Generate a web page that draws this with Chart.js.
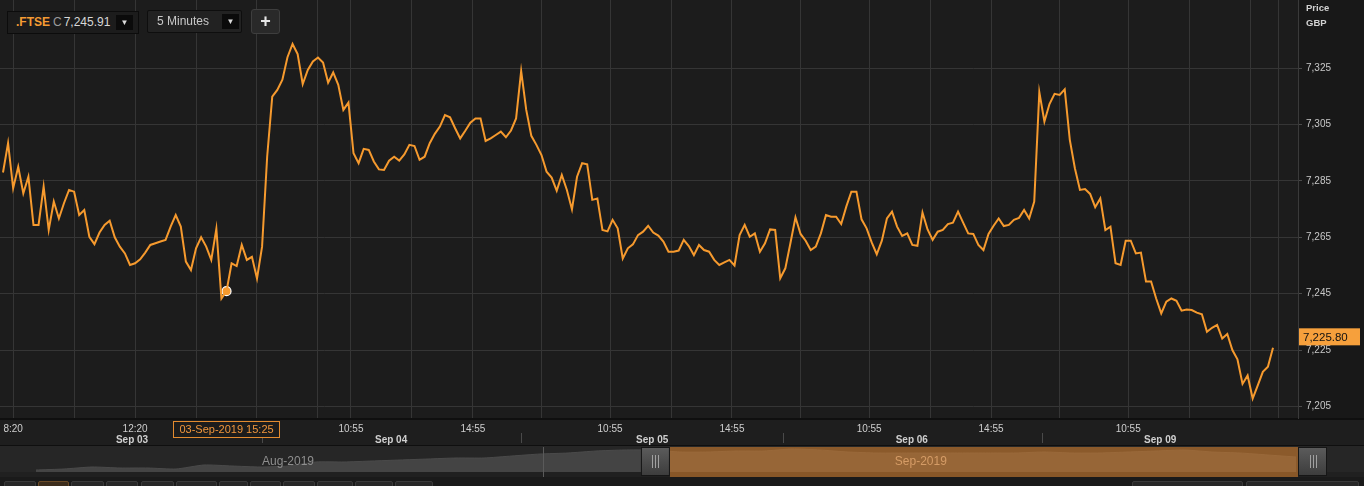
<!DOCTYPE html>
<html>
<head>
<meta charset="utf-8">
<script src="https://cdn.jsdelivr.net/npm/chart.js@4.4.1/dist/chart.umd.min.js"></script>
<style>
    body { margin: 0; width: 1364px; height: 486px; overflow: hidden; background: #1a1a1a; position: relative; font-family: "Liberation Sans", Arial, sans-serif; }
    #mainChart { position: absolute; left: 0; top: 0; }
    #navChart { position: absolute; left: 0; top: 446px; }
    .box { position: absolute; box-sizing: border-box; }
    .ric { left: 7px; top: 11px; width: 132px; height: 23px; border: 1px solid #0c0c0c; background: #1c1c1c; font-size: 12px; line-height: 21px; color: #d8d8d8; padding-left: 8px; }
    .ric .code { color: #f49b33; font-weight: bold; }
    .ric .c { color: #9a9a9a; margin: 0 2px 0 3px; }
    .drop { position: absolute; top: 3px; width: 17px; height: 15px; background: #0b0b0b; color: #dcdcdc; font-size: 8px; line-height: 15px; text-align: center; }
    .interval { left: 147px; top: 10px; width: 95px; height: 23px; border: 1px solid #0e0e0e; border-radius: 2px; background: #222; font-size: 12px; line-height: 21px; color: #c8c8c8; padding-left: 9px; }
    .plus { left: 251px; top: 9px; width: 29px; height: 25px; border: 1px solid #3e3e3e; border-radius: 3px; background: #292929; color: #e6e6e6; font-size: 18px; font-weight: bold; line-height: 22px; text-align: center; }
    .btn { position: absolute; top: 481px; height: 12px; box-sizing: border-box; border: 1px solid #3a3a3a; border-radius: 2px; background: #272727; }
    .btn.on { border-color: #6a4a26; background: #3d2d1c; }
</style>
</head>
<body>
<canvas id="mainChart" width="1364" height="446"></canvas>
<canvas id="navChart" width="1364" height="31"></canvas>

<div class="box ric"><span class="code">.FTSE</span><span class="c">C</span>7,245.91<div class="drop" style="left:108px">&#9660;</div></div>
<div class="box interval">5 Minutes<div class="drop" style="left:74px">&#9660;</div></div>
<div class="box plus">+</div>
<div id="buttons"></div>

<script>
// FTSE 100, 10 minute steps from 03-Sep 08:00 to 09-Sep afternoon
const prices = [
    7288.0, 7298.4, 7282.4, 7290.0, 7280.6, 7286.5, 7269.4, 7269.4, 7283.0, 7267.6,
    7277.7, 7271.7, 7277.1, 7281.8, 7281.2, 7272.9, 7274.7, 7265.2, 7262.6, 7266.7,
    7269.4, 7270.9, 7265.0, 7261.7, 7259.3, 7255.2, 7255.8, 7257.2, 7259.6, 7262.3,
    7262.9, 7263.5, 7264.1, 7268.8, 7272.9, 7268.8, 7256.4, 7253.4, 7261.1, 7265.0,
    7261.7, 7257.0, 7268.0, 7243.3, 7245.91, 7255.8, 7254.8, 7262.3, 7257.0, 7258.1,
    7250.4, 7261.7, 7293.6, 7314.9, 7317.3, 7320.9, 7328.9, 7333.6, 7330.0, 7319.4,
    7324.4, 7327.4, 7328.8, 7327.0, 7319.9, 7323.5, 7319.1, 7310.2, 7312.8, 7294.8,
    7291.3, 7296.4, 7296.0, 7291.9, 7289.1, 7288.9, 7292.2, 7293.6, 7292.2, 7294.4,
    7297.8, 7297.4, 7292.5, 7293.6, 7298.4, 7301.7, 7304.3, 7308.4, 7307.6, 7303.7,
    7300.1, 7302.8, 7305.7, 7307.2, 7307.2, 7299.2, 7300.1, 7301.3, 7302.5, 7300.5,
    7302.9, 7307.2, 7324.0, 7310.2, 7301.0, 7297.8, 7294.2, 7288.3, 7286.2, 7281.5,
    7287.1, 7281.8, 7274.9, 7286.5, 7291.3, 7290.9, 7278.3, 7278.8, 7267.6, 7267.1,
    7271.2, 7268.2, 7257.5, 7261.1, 7262.5, 7265.8, 7267.0, 7269.1, 7266.7, 7265.6,
    7263.5, 7259.9, 7259.9, 7260.3, 7264.1, 7261.9, 7258.7, 7262.3, 7260.5, 7259.9,
    7257.0, 7255.2, 7256.1, 7257.0, 7255.0, 7265.8, 7269.4, 7265.2, 7266.4, 7259.9,
    7262.9, 7267.8, 7267.6, 7250.5, 7254.0, 7262.9, 7272.1, 7266.2, 7263.8, 7260.5,
    7261.7, 7266.4, 7272.9, 7272.3, 7272.3, 7269.7, 7275.9, 7281.2, 7281.2, 7271.4,
    7268.2, 7263.2, 7259.0, 7263.8, 7271.7, 7274.1, 7268.8, 7265.5, 7266.4, 7262.3,
    7262.0, 7273.8, 7267.8, 7264.1, 7267.0, 7267.6, 7269.7, 7270.2, 7274.1, 7270.2,
    7266.4, 7266.2, 7262.3, 7260.5, 7266.2, 7269.1, 7271.7, 7269.0, 7269.4, 7271.2,
    7271.9, 7274.7, 7271.7, 7277.7, 7316.5, 7306.1, 7312.3, 7315.9, 7315.5, 7317.5,
    7299.6, 7289.5, 7281.8, 7282.1, 7280.4, 7275.7, 7278.8, 7267.6, 7268.8, 7255.8,
    7255.2, 7263.8, 7263.8, 7259.3, 7259.6, 7249.3, 7249.3, 7243.3, 7238.0, 7242.2,
    7243.3, 7242.5, 7239.0, 7239.4, 7239.2, 7238.3, 7237.7, 7231.5, 7232.9, 7233.9,
    7229.1, 7230.7, 7225.0, 7221.7, 7213.0, 7216.0, 7207.8, 7212.5, 7217.3, 7219.1,
    7225.8
];

const priceTicks = [7205, 7225, 7245, 7265, 7285, 7305, 7325];
const gridIdx = [2, 14, 26, 38, 50, 62, 68.5, 80.5, 92.5, 106, 119.5, 131.5, 143.5, 157, 170.5, 182.5, 194.5, 208, 221.5, 233.5, 245.5, 251];
const timeTickIdx = [2, 26, 68.5, 92.5, 119.5, 143.5, 170.5, 194.5, 221.5];
const timeTickText = ['8:20', '12:20', '10:55', '14:55', '10:55', '14:55', '10:55', '14:55', '10:55'];
const dayCenters = [25.4, 76.4, 127.8, 178.9, 227.8];
const dayLabels = ['Sep 03', 'Sep 04', 'Sep 05', 'Sep 06', 'Sep 09'];
const daySeparators = [51, 102, 153.5, 204.5];

const markerIdx = 44;
const markerLabel = '03-Sep-2019 15:25';

// navigator (Aug - Sep overview)
const navValues = [
    6980, 6995, 7025, 7010, 7010, 6995, 7055, 7040, 7025, 7040,
    7100, 7100, 7115, 7130, 7145, 7160, 7160, 7190, 7220, 7235,
    7265, 7280, 7280, 7250, 7250, 7265, 7265, 7295, 7280, 7250,
    7235, 7235, 7235, 7235, 7235, 7235, 7250, 7235, 7235, 7250,
    7265, 7280, 7250, 7235, 7205, 7175
];
const navSelStart = 22.64;
const navMonthLine = 18.1;
const navMonthText = ['Aug-2019', 'Sep-2019'];
const navMonthPos = [9, 31.6];

const ORANGE = '#f69a2e';
const GRID = '#353535';

Chart.defaults.font.family = '"Liberation Sans", Arial, sans-serif';

function fmtPrice(v) {
    return v.toLocaleString('en-US', { minimumFractionDigits: 0, maximumFractionDigits: 0 });
}

// keep the plot flush with the canvas edges
function noPad(s) {
    s.paddingLeft = 0;
    s.paddingRight = 0;
    s.paddingTop = 0;
    s.paddingBottom = 0;
}

const mainPlugin = {
    id: 'mainPlugin',
    beforeDraw(chart) {
        const { ctx, chartArea: a, width, height } = chart;
        ctx.save();
        ctx.fillStyle = '#181818';
        ctx.fillRect(0, 0, width, height);
        ctx.fillStyle = '#1c1c1c';
        ctx.fillRect(a.left, a.top, a.right - a.left, a.bottom - a.top);
        ctx.fillStyle = '#1e1e1e';
        ctx.fillRect(0, a.bottom, width, height - a.bottom);
        ctx.fillStyle = '#0f0f0f';
        ctx.fillRect(0, a.bottom, width, 2);
        ctx.fillRect(0, height - 1, width, 1);
        ctx.restore();
    },
    afterDraw(chart) {
        const { ctx, chartArea: a, scales } = chart;
        const x = scales.x, y = scales.y;
        ctx.save();

        // day separators on the date row
        ctx.strokeStyle = '#4a4a4a';
        ctx.lineWidth = 1;
        daySeparators.forEach(d => {
            const px = Math.round(x.getPixelForValue(d)) + 0.5;
            ctx.beginPath();
            ctx.moveTo(px, a.bottom + 15);
            ctx.lineTo(px, a.bottom + 25);
            ctx.stroke();
        });

        // hovered time box
        const mx = x.getPixelForValue(markerIdx);
        ctx.font = '11px "Liberation Sans", Arial, sans-serif';
        const tw = ctx.measureText(markerLabel).width + 12;
        ctx.fillStyle = '#1c1c1c';
        ctx.fillRect(mx - tw / 2, a.bottom + 3, tw, 16);
        ctx.strokeStyle = '#e38b2f';
        ctx.strokeRect(Math.round(mx - tw / 2) + 0.5, a.bottom + 3.5, Math.round(tw), 16);
        ctx.fillStyle = '#f0963c';
        ctx.textAlign = 'center';
        ctx.textBaseline = 'middle';
        ctx.fillText(markerLabel, mx, a.bottom + 12);

        // last price tag
        const last = prices[prices.length - 1];
        const ly = y.getPixelForValue(last) - 11;
        ctx.fillStyle = '#f6a03c';
        ctx.fillRect(a.right + 1, ly - 8.5, 61, 17);
        ctx.fillStyle = '#111';
        ctx.textAlign = 'left';
        ctx.font = '11.5px "Liberation Sans", Arial, sans-serif';
        ctx.fillText(last.toFixed(2).replace(/\B(?=(\d{3})+(?!\d))/, ','), a.right + 5, ly + 1);

        // axis caption
        ctx.fillStyle = '#d2d2d2';
        ctx.font = 'bold 9.5px "Liberation Sans", Arial, sans-serif';
        ctx.fillText('Price', a.right + 8, 8);
        ctx.fillText('GBP', a.right + 8, 23);
        ctx.restore();
    }
};

function buildMainChart() {
    const lineData = prices.map((v, i) => ({ x: i, y: v }));
    new Chart(document.getElementById('mainChart'), {
        type: 'line',
        data: {
            datasets: [{
                data: lineData,
                borderColor: ORANGE,
                borderWidth: 2,
                pointRadius: 0,
                tension: 0
            }, {
                data: [{ x: markerIdx, y: prices[markerIdx] }],
                showLine: false,
                pointRadius: 4.5,
                pointBackgroundColor: ORANGE,
                pointBorderColor: '#ffffff',
                pointBorderWidth: 1.2
            }]
        },
        options: {
            responsive: false,
            animation: false,
            layout: { padding: 0, autoPadding: false },
            plugins: { legend: { display: false }, tooltip: { enabled: false } },
            scales: {
                x: {
                    type: 'linear',
                    position: 'bottom',
                    min: -0.59,
                    max: 254.92,
                    weight: 0,
                    afterBuildTicks: s => { s.ticks = gridIdx.map(v => ({ value: v })); },
                    afterFit: s => { s.height = 15; noPad(s); },
                    grid: { color: GRID, drawTicks: false },
                    border: { display: false },
                    ticks: {
                        autoSkip: false, maxRotation: 0, padding: 5,
                        color: '#cfcfcf', font: { size: 10 },
                        callback: v => {
                            const k = timeTickIdx.indexOf(v);
                            return k >= 0 ? timeTickText[k] : '';
                        }
                    }
                },
                x2: {
                    type: 'linear',
                    position: 'bottom',
                    min: -0.59,
                    max: 254.92,
                    weight: 1,
                    afterBuildTicks: s => { s.ticks = dayCenters.map(v => ({ value: v })); },
                    afterFit: s => { s.height = 13; noPad(s); },
                    grid: { display: false, drawTicks: false },
                    border: { display: false },
                    ticks: {
                        autoSkip: false, maxRotation: 0, padding: 1,
                        color: '#cfcfcf', font: { size: 10, weight: 'bold' },
                        callback: v => dayLabels[dayCenters.indexOf(v)]
                    }
                },
                y: {
                    type: 'linear',
                    position: 'right',
                    min: 7200.9,
                    max: 7349.2,
                    afterBuildTicks: s => { s.ticks = priceTicks.map(v => ({ value: v })); },
                    afterFit: s => { s.width = 66; noPad(s); },
                    grid: { color: GRID, tickLength: 4, tickColor: '#4a4a4a' },
                    border: { display: true, color: '#3a3a3a' },
                    ticks: { padding: 4, color: '#c8c8c8', font: { size: 10 }, callback: v => fmtPrice(v) }
                }
            }
        },
        plugins: [mainPlugin]
    });
}

const navPlugin = {
    id: 'navPlugin',
    beforeDraw(chart) {
        const { ctx, width, height } = chart;
        ctx.save();
        ctx.fillStyle = '#262626';
        ctx.fillRect(0, 0, width, height);
        ctx.fillStyle = '#202020';
        ctx.fillRect(0, 26, width, height - 26);
        ctx.restore();
    },
    afterDraw(chart) {
        const { ctx, chartArea: a, scales } = chart;
        const x = scales.x;
        const selL = x.getPixelForValue(navSelStart);
        ctx.save();

        ctx.strokeStyle = '#5a5a5a';
        const ml = Math.round(x.getPixelForValue(navMonthLine)) + 0.5;
        ctx.beginPath(); ctx.moveTo(ml, 1); ctx.lineTo(ml, 31); ctx.stroke();

        // selected range
        ctx.fillStyle = 'rgba(206,125,47,0.6)';
        ctx.fillRect(selL, 1, a.right - selL, 30);

        ctx.font = '12px "Liberation Sans", Arial, sans-serif';
        ctx.textAlign = 'center';
        ctx.textBaseline = 'middle';
        ctx.fillStyle = '#8e8e8e';
        ctx.fillText(navMonthText[0], x.getPixelForValue(navMonthPos[0]), 16);
        ctx.fillStyle = '#d59c66';
        ctx.fillText(navMonthText[1], x.getPixelForValue(navMonthPos[1]), 16);

        // range handles
        [selL - 29, a.right].forEach(hx => {
            const g = ctx.createLinearGradient(0, 1, 0, 30);
            g.addColorStop(0, '#5c5c5c');
            g.addColorStop(1, '#3c3c3c');
            ctx.fillStyle = g;
            ctx.fillRect(hx, 1, 29, 29);
            ctx.strokeStyle = '#161616';
            ctx.strokeRect(hx + 0.5, 1.5, 28, 28);
            ctx.strokeStyle = '#a0a0a0';
            [-3, 0, 3].forEach(o => {
                ctx.beginPath();
                ctx.moveTo(Math.round(hx + 14.5 + o) + 0.5, 9);
                ctx.lineTo(Math.round(hx + 14.5 + o) + 0.5, 22);
                ctx.stroke();
            });
        });
        ctx.restore();
    }
};

function buildNavChart() {
    new Chart(document.getElementById('navChart'), {
        type: 'line',
        data: {
            datasets: [{
                data: navValues.map((v, i) => ({ x: i, y: v })),
                borderColor: '#4a4a4a',
                borderWidth: 1,
                backgroundColor: '#444444',
                fill: 'start',
                pointRadius: 0,
                tension: 0.2
            }]
        },
        options: {
            responsive: false,
            animation: false,
            layout: { padding: { left: 36, right: 66, top: 0, bottom: 5 }, autoPadding: false },
            plugins: { legend: { display: false }, tooltip: { enabled: false } },
            scales: {
                x: { type: 'linear', min: 0, max: 45.07, display: false },
                y: { min: 6950, max: 7340, display: false }
            }
        },
        plugins: [navPlugin]
    });
}

function buildButtons() {
    const lefts = [4, 38, 71, 106, 141, 176, 219, 250, 283, 317, 355, 395, 1132, 1246];
    const rights = [36, 69, 104, 138, 174, 217, 248, 281, 315, 353, 393, 433, 1243, 1359];
    const wrap = document.getElementById('buttons');
    lefts.forEach((l, i) => {
        const b = document.createElement('div');
        b.className = 'btn' + (i === 1 ? ' on' : '');
        b.style.left = l + 'px';
        b.style.width = (rights[i] - l) + 'px';
        wrap.appendChild(b);
    });
}

document.addEventListener('DOMContentLoaded', () => {
    buildMainChart();
    buildNavChart();
    buildButtons();
});
</script>
</body>
</html>
